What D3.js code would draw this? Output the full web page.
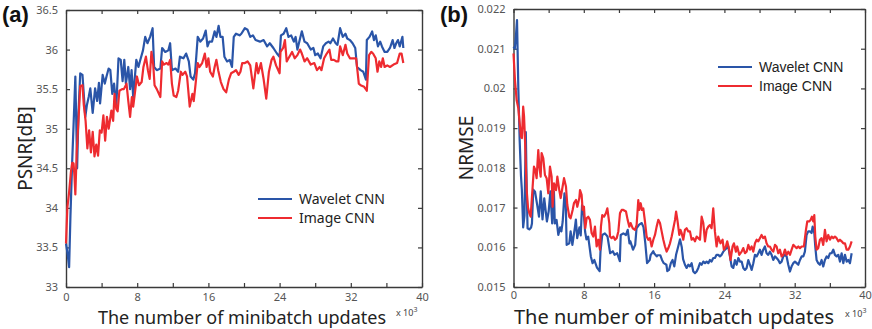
<!DOCTYPE html><meta charset="utf-8">
<html>
<head>
<title>Wavelet CNN vs Image CNN</title>
<script src="https://cdn.jsdelivr.net/npm/d3@7/dist/d3.min.js"></script>
<style>
  body { margin: 0; background: #fff; }
  svg { display: block; }
</style>
</head>
<body>
<svg id="viz"></svg>
<script>
// values, x in thousands of minibatch updates
var seriesNames = ["Wavelet CNN", "Image CNN"];
var xTicks = [0, 4, 8, 12, 16, 20, 24, 28, 32, 36, 40];
var psnrTicks = [33, 33.5, 34, 34.5, 35, 35.5, 36, 36.5];
var nrmseTicks = [0.015, 0.016, 0.017, 0.018, 0.019, 0.02, 0.021, 0.022];

var psnrWavelet = [[0,33.55],[0.2,33.4],[0.35,33.25],[0.5,33.9],[0.7,34.6],[0.9,35.2],[1.05,35.66],[1.15,35.1],[1.25,34.5],[1.4,35.2],[1.6,35.7],[1.85,35.68],[2.17,35.15],[2.35,35.3],[2.55,35.4],[2.73,35.51],[3.0,35.2],[3.27,35.51],[3.5,35.35],[3.7,35.58],[3.83,35.32],[4.12,35.68],[4.36,35.57],[4.55,35.66],[4.79,35.76],[4.98,35.74],[5.2,35.44],[5.4,35.57],[5.65,35.28],[5.9,35.89],[6.15,35.87],[6.36,35.6],[6.55,35.87],[6.73,35.57],[7.0,35.78],[7.2,35.5],[7.37,35.74],[7.55,35.4],[7.9,35.87],[8.14,35.78],[8.3,35.85],[8.65,35.99],[8.9,36.16],[9.15,36.08],[9.45,36.16],[9.73,36.27],[9.9,35.78],[10.2,35.74],[10.6,35.76],[10.8,36.02],[11.15,35.97],[11.5,35.99],[11.7,36.08],[11.9,35.74],[12.3,35.76],[12.6,35.72],[12.8,35.91],[13.2,35.89],[13.5,35.95],[13.8,35.85],[14.0,35.66],[14.3,35.62],[14.5,35.7],[14.8,36.16],[15.1,36.1],[15.4,36.14],[15.7,36.24],[15.9,36.04],[16.1,36.1],[16.4,36.1],[16.7,36.23],[16.9,36.16],[17.15,36.3],[17.35,36.16],[17.6,36.16],[17.8,35.91],[18.1,35.85],[18.4,35.87],[18.65,35.78],[18.85,36.16],[19.1,36.2],[19.5,36.18],[19.7,36.2],[20.1,36.27],[20.4,36.25],[20.7,36.16],[21.0,36.18],[21.3,36.12],[21.8,36.1],[22.2,36.12],[22.6,36.04],[22.9,36.08],[23.3,36.02],[23.7,35.95],[24.0,35.91],[24.15,36.18],[24.45,36.2],[24.75,36.27],[25.0,36.16],[25.3,36.18],[25.6,36.1],[25.8,36.16],[26.0,36.0],[26.3,36.14],[26.5,36.23],[26.8,36.1],[27.1,36.08],[27.5,36.0],[27.8,36.02],[28.0,35.93],[28.3,35.95],[28.6,35.89],[28.9,36.04],[29.2,36.08],[29.5,36.1],[29.7,36.08],[30.0,36.14],[30.3,36.08],[30.5,36.06],[30.8,36.27],[31.1,36.16],[31.4,36.2],[31.6,36.14],[31.9,36.12],[32.2,36.08],[32.5,36.02],[32.7,35.78],[33.1,35.74],[33.4,35.72],[33.7,35.62],[33.8,36.12],[34.1,36.16],[34.4,36.23],[34.6,36.12],[34.8,36.18],[35.05,36.04],[35.3,36.1],[35.5,36.04],[35.8,35.97],[36.1,35.97],[36.4,36.02],[36.7,36.12],[36.9,36.02],[37.1,36.08],[37.3,36.12],[37.5,36.04],[37.8,36.16],[37.9,36.02]];

var psnrImage = [[0,33.55],[0.15,34.0],[0.35,34.2],[0.55,34.45],[0.7,34.57],[0.85,34.56],[0.95,34.4],[1.05,34.17],[1.2,34.7],[1.4,35.1],[1.6,35.54],[1.85,35.55],[2.0,35.3],[2.2,35.1],[2.4,34.75],[2.6,34.98],[2.8,34.7],[3.0,34.96],[3.2,34.65],[3.4,34.8],[3.6,34.66],[3.8,34.98],[4.0,34.95],[4.2,35.17],[4.4,34.85],[4.6,35.15],[4.8,35.0],[5.1,35.23],[5.3,35.1],[5.45,35.44],[5.65,35.25],[5.8,35.22],[6.0,35.48],[6.3,35.5],[6.5,35.5],[6.8,35.57],[7.0,35.35],[7.2,35.15],[7.4,35.4],[7.55,35.28],[7.75,35.46],[7.97,35.66],[8.2,35.55],[8.5,35.59],[8.7,35.78],[8.98,35.91],[9.2,35.74],[9.4,35.63],[9.6,35.97],[9.8,35.81],[9.95,35.55],[10.2,35.5],[10.4,35.45],[10.6,35.4],[10.8,35.85],[11.0,35.81],[11.3,35.83],[11.5,35.81],[11.7,35.87],[11.9,35.57],[12.1,35.42],[12.4,35.4],[12.6,35.48],[12.9,35.72],[13.1,35.68],[13.4,35.72],[13.6,35.66],[13.9,35.28],[14.2,35.44],[14.35,35.35],[14.5,35.5],[14.8,35.83],[15.0,35.78],[15.3,35.83],[15.6,35.95],[15.8,35.78],[16.0,35.89],[16.2,35.72],[16.5,35.66],[16.7,35.78],[16.9,35.87],[17.1,35.74],[17.4,35.59],[17.7,35.5],[18.0,35.46],[18.3,35.62],[18.55,35.7],[18.85,35.72],[19.1,35.74],[19.4,35.68],[19.6,35.72],[19.8,35.83],[20.1,35.83],[20.4,35.85],[20.7,35.8],[21.05,35.51],[21.4,35.83],[21.6,35.7],[21.9,35.83],[22.2,35.63],[22.5,35.38],[22.8,35.72],[23.1,35.87],[23.3,35.91],[23.6,35.8],[24.0,35.7],[24.1,35.97],[24.4,36.02],[24.6,36.12],[24.8,35.85],[25.0,35.89],[25.4,35.97],[25.7,35.89],[26.0,35.93],[26.3,36.0],[26.5,35.95],[26.8,35.85],[27.1,35.89],[27.5,35.81],[27.9,35.83],[28.2,35.74],[28.5,35.78],[28.7,35.74],[29.0,35.89],[29.3,35.95],[29.6,36.0],[29.8,35.87],[30.1,35.87],[30.4,35.85],[30.6,35.85],[30.8,36.04],[31.1,35.93],[31.4,36.06],[31.6,35.95],[31.9,35.89],[32.3,35.89],[32.6,35.89],[32.9,35.57],[33.1,35.55],[33.5,35.53],[33.8,35.48],[34.05,35.93],[34.3,35.97],[34.5,35.95],[34.8,35.89],[35.0,35.72],[35.2,35.85],[35.4,35.78],[35.6,35.89],[35.8,35.78],[36.1,35.8],[36.4,35.78],[36.8,35.81],[37.2,35.83],[37.5,35.95],[37.7,35.95],[37.9,35.83]];

var nrmseWavelet = [[0,0.02105],[0.15,0.0210],[0.3,0.0214],[0.4,0.02172],[0.55,0.0200],[0.7,0.0187],[0.85,0.0178],[0.95,0.01745],[1.1,0.0165],[1.25,0.0168],[1.4,0.0189],[1.5,0.0175],[1.6,0.01648],[1.8,0.01645],[2.0,0.0165],[2.1,0.0166],[2.25,0.01745],[2.45,0.0174],[2.7,0.01706],[2.9,0.01677],[3.1,0.01741],[3.3,0.0167],[3.5,0.01723],[3.8,0.01665],[4.0,0.0169],[4.2,0.01741],[4.4,0.0166],[4.6,0.0174],[4.7,0.0166],[4.9,0.01669],[5.1,0.01631],[5.3,0.0165],[5.45,0.0164],[5.6,0.01665],[5.8,0.01736],[5.95,0.01706],[6.05,0.01606],[6.35,0.0161],[6.5,0.0164],[6.7,0.01606],[7.0,0.01652],[7.1,0.0167],[7.25,0.01623],[7.5,0.0165],[7.65,0.0163],[7.8,0.01706],[7.95,0.0170],[8.15,0.01639],[8.3,0.0162],[8.5,0.01627],[8.8,0.01577],[9.0,0.0156],[9.2,0.01568],[9.5,0.01549],[9.8,0.0154],[9.9,0.0159],[10.1,0.01631],[10.4,0.01635],[10.7,0.01627],[11.0,0.01585],[11.3,0.0159],[11.5,0.01581],[11.8,0.01585],[12.1,0.01565],[12.2,0.01631],[12.5,0.01635],[12.8,0.01631],[13.0,0.01644],[13.2,0.0161],[13.3,0.01615],[13.6,0.01594],[13.85,0.01606],[14.0,0.01648],[14.3,0.01657],[14.6,0.01661],[14.8,0.0165],[15.0,0.0161],[15.2,0.0156],[15.5,0.01568],[15.6,0.0158],[15.9,0.0159],[16.0,0.01585],[16.3,0.01577],[16.4,0.0158],[16.7,0.0158],[16.9,0.01568],[17.1,0.0156],[17.4,0.01556],[17.5,0.0154],[17.7,0.01543],[17.9,0.0156],[18.1,0.01568],[18.3,0.01552],[18.5,0.01581],[18.7,0.01598],[18.95,0.0162],[19.15,0.0160],[19.3,0.0157],[19.51,0.01556],[19.7,0.01548],[19.89,0.01556],[20.08,0.01552],[20.27,0.0156],[20.46,0.01539],[20.65,0.01535],[20.84,0.01539],[21.03,0.01548],[21.22,0.0156],[21.41,0.01556],[21.6,0.01564],[21.79,0.0156],[21.98,0.01564],[22.17,0.0156],[22.35,0.01568],[22.54,0.01564],[22.73,0.01573],[22.92,0.01573],[23.11,0.01581],[23.3,0.01581],[23.49,0.01577],[23.68,0.01581],[23.87,0.01589],[24.06,0.01594],[24.25,0.01598],[24.44,0.01602],[24.63,0.01577],[24.82,0.01552],[25.01,0.01548],[25.2,0.01568],[25.39,0.01556],[25.58,0.01573],[25.77,0.01564],[25.96,0.01564],[26.15,0.01548],[26.34,0.01543],[26.53,0.01548],[26.72,0.01568],[26.91,0.01556],[27.1,0.01543],[27.29,0.0156],[27.48,0.01581],[27.67,0.01577],[27.86,0.01585],[28.04,0.01594],[28.23,0.01581],[28.42,0.01594],[28.61,0.01602],[28.8,0.01585],[28.99,0.01581],[29.18,0.01589],[29.37,0.01581],[29.56,0.01568],[29.75,0.01577],[29.94,0.01573],[30.13,0.01568],[30.32,0.0156],[30.51,0.01564],[30.7,0.01577],[30.89,0.01581],[31.08,0.01577],[31.27,0.01556],[31.46,0.01539],[31.65,0.01552],[31.84,0.0156],[32.03,0.01564],[32.22,0.0156],[32.41,0.01556],[32.6,0.01568],[32.79,0.01577],[32.98,0.01577],[33.16,0.01589],[33.35,0.01631],[33.54,0.0164],[33.73,0.0164],[33.92,0.01636],[34.04,0.01652],[34.23,0.01636],[34.34,0.01602],[34.49,0.01568],[34.68,0.0156],[34.87,0.01556],[35.06,0.01568],[35.25,0.01552],[35.44,0.01568],[35.63,0.01577],[35.82,0.01573],[36.01,0.01585],[36.2,0.01585],[36.39,0.01594],[36.58,0.01581],[36.77,0.01577],[36.96,0.01581],[37.15,0.01564],[37.34,0.01585],[37.53,0.0156],[37.72,0.01581],[37.91,0.01564],[38.1,0.01568],[38.29,0.0156],[38.48,0.01585]];

var nrmseImage = [[0,0.02088],[0.17,0.0202],[0.36,0.0197],[0.55,0.0195],[0.74,0.01904],[0.85,0.01878],[0.96,0.01875],[1.1,0.01954],[1.2,0.0193],[1.31,0.0187],[1.5,0.01744],[1.65,0.0170],[1.8,0.01686],[1.95,0.01677],[2.18,0.01753],[2.33,0.01803],[2.48,0.01795],[2.63,0.01774],[2.82,0.01845],[2.94,0.01803],[3.09,0.01778],[3.2,0.01837],[3.39,0.01824],[3.58,0.01782],[3.77,0.01774],[3.96,0.01736],[4.15,0.01803],[4.34,0.01778],[4.45,0.01702],[4.61,0.01761],[4.84,0.01744],[4.99,0.01778],[5.21,0.01744],[5.37,0.01724],[5.59,0.01753],[5.75,0.01774],[5.97,0.01753],[6.12,0.01707],[6.35,0.01677],[6.5,0.01673],[6.73,0.01694],[6.88,0.01711],[7.11,0.01719],[7.26,0.01702],[7.49,0.01724],[7.57,0.01744],[7.75,0.01732],[7.87,0.01694],[8.02,0.01702],[8.17,0.01648],[8.32,0.01673],[8.51,0.01677],[8.7,0.01669],[8.89,0.01636],[9.08,0.01627],[9.27,0.01652],[9.46,0.01602],[9.65,0.01619],[9.84,0.01594],[9.95,0.01652],[10.1,0.01681],[10.3,0.01677],[10.52,0.01686],[10.68,0.01698],[10.9,0.01661],[10.98,0.01627],[11.17,0.01623],[11.36,0.01627],[11.55,0.01619],[11.74,0.01623],[11.93,0.0164],[12.12,0.01686],[12.31,0.01694],[12.5,0.01694],[12.8,0.0169],[12.99,0.01669],[13.18,0.01652],[13.33,0.01661],[13.56,0.01648],[13.82,0.01644],[14.01,0.01656],[14.2,0.01719],[14.31,0.01694],[14.47,0.01711],[14.62,0.01694],[14.77,0.01698],[14.96,0.01665],[15.15,0.01627],[15.34,0.01619],[15.53,0.01623],[15.72,0.01602],[15.91,0.01619],[16.1,0.01631],[16.29,0.01652],[16.48,0.01669],[16.67,0.01661],[16.86,0.0164],[17.05,0.01619],[17.24,0.01602],[17.43,0.01589],[17.62,0.01598],[17.81,0.0161],[18.0,0.01627],[18.19,0.01648],[18.38,0.01669],[18.5,0.0169],[18.65,0.01669],[18.87,0.01631],[19.0,0.01644],[19.13,0.01636],[19.32,0.01619],[19.51,0.01644],[19.7,0.01648],[19.89,0.0164],[20.08,0.0164],[20.27,0.01619],[20.46,0.01623],[20.65,0.01615],[20.84,0.01627],[21.03,0.01623],[21.22,0.01619],[21.41,0.01677],[21.6,0.01661],[21.79,0.01615],[21.98,0.01644],[22.17,0.01652],[22.35,0.01656],[22.54,0.01648],[22.73,0.01698],[22.92,0.0164],[23.11,0.01602],[23.3,0.01627],[23.41,0.01619],[23.56,0.0161],[23.79,0.01619],[23.94,0.01594],[24.17,0.01602],[24.32,0.01615],[24.55,0.01594],[24.7,0.01568],[24.93,0.01602],[25.08,0.0161],[25.31,0.01589],[25.46,0.01602],[25.69,0.01581],[25.96,0.01589],[26.15,0.01598],[26.34,0.01585],[26.53,0.01589],[26.72,0.01606],[26.91,0.01594],[27.1,0.01602],[27.29,0.01589],[27.48,0.0161],[27.67,0.01619],[27.86,0.01615],[28.04,0.01623],[28.23,0.01631],[28.42,0.01623],[28.61,0.01627],[28.8,0.0161],[28.99,0.01602],[29.18,0.01602],[29.37,0.01594],[29.56,0.01589],[29.75,0.01606],[29.94,0.01602],[30.13,0.01585],[30.32,0.01594],[30.51,0.01577],[30.7,0.01581],[30.89,0.01594],[31.08,0.01581],[31.27,0.01589],[31.46,0.01581],[31.65,0.01594],[31.84,0.01606],[32.03,0.01602],[32.22,0.01598],[32.41,0.01602],[32.6,0.01598],[32.79,0.01602],[33.05,0.01602],[33.28,0.01644],[33.43,0.01665],[33.65,0.01665],[33.81,0.01669],[33.96,0.01677],[34.11,0.01665],[34.23,0.01681],[34.34,0.01627],[34.49,0.01594],[34.68,0.01598],[34.87,0.01619],[35.06,0.01623],[35.25,0.01606],[35.44,0.01644],[35.63,0.01615],[35.82,0.01631],[36.01,0.01619],[36.2,0.01627],[36.39,0.01623],[36.58,0.01627],[36.77,0.01623],[36.96,0.01615],[37.15,0.01619],[37.34,0.01615],[37.53,0.0161],[37.72,0.0161],[37.91,0.01594],[38.1,0.01594],[38.29,0.01602],[38.48,0.01615]];

var colors = ["#2a55a8", "#ee2b30"];
var width = 872, height = 329;

var svg = d3.select("#viz").attr("width", width).attr("height", height)
    .style("font-family", "'Noto Sans', 'Open Sans', sans-serif");

svg.append("rect").attr("width", width).attr("height", height).attr("fill", "#fff");

function drawPanel(p) {
    var x = d3.scaleLinear().domain([0, 40]).range([p.left, p.right]);
    var y = d3.scaleLinear().domain(p.yDomain).range([p.bottom, p.top]);
    var g = svg.append("g");

    // box with inward ticks on all four sides
    var bottom = g.append("g").attr("transform", "translate(0," + p.bottom + ")")
        .call(d3.axisBottom(x).tickValues(xTicks).tickSizeInner(-4).tickSizeOuter(0).tickPadding(p.xPad)
            .tickFormat(function(d) { return d % 8 === 0 ? d : ""; }));
    var top = g.append("g").attr("transform", "translate(0," + p.top + ")")
        .call(d3.axisTop(x).tickValues(xTicks).tickSizeInner(-4).tickSizeOuter(0).tickFormat(""));
    var left = g.append("g").attr("transform", "translate(" + p.left + ",0)")
        .call(d3.axisLeft(y).tickValues(p.yTicks).tickSizeInner(-4).tickSizeOuter(0).tickPadding(8)
            .tickFormat(function(d) { return String(d); }));
    var right = g.append("g").attr("transform", "translate(" + p.right + ",0)")
        .call(d3.axisRight(y).tickValues(p.yTicks).tickSizeInner(-4).tickSizeOuter(0).tickFormat(""));

    [bottom, top, left, right].forEach(function(a) {
        a.select(".domain").attr("stroke", "#3a3a3a").attr("stroke-width", 1.4);
        a.selectAll(".tick line").attr("stroke", "#3a3a3a").attr("stroke-width", 1.2);
        a.selectAll("text").attr("fill", "#555").style("font-size", "11px")
            .style("font-family", "'Noto Sans', 'Open Sans', sans-serif");
    });
    // drop the empty label nodes of the unlabeled ticks
    bottom.selectAll(".tick text").filter(function(d) { return d % 8 !== 0; }).remove();

    var line = d3.line().x(function(d) { return x(d[0]); }).y(function(d) { return y(d[1]); });
    p.series.forEach(function(s, i) {
        g.append("path").datum(s).attr("d", line)
            .attr("fill", "none").attr("stroke", colors[i])
            .attr("stroke-width", 2.2).attr("stroke-linejoin", "round");
    });

    // axis titles
    g.append("text").attr("x", p.xLabelX).attr("y", p.xLabelY)
        .attr("text-anchor", "middle").attr("fill", "#222")
        .style("font-size", p.xLabelSize + "px").text("The number of minibatch updates");
    g.append("text").attr("x", p.expX).attr("y", p.expY)
        .attr("fill", "#444").style("font-size", "9px")
        .text("x 10").append("tspan").attr("dy", -4).style("font-size", "7px").text("3");
    g.append("text")
        .attr("transform", "translate(" + p.yLabelX + "," + ((p.top + p.bottom) / 2) + ") rotate(-90)")
        .attr("text-anchor", "middle").attr("fill", "#222")
        .style("font-size", "19px").text(p.yLabel);
    g.append("text").attr("x", p.tagX).attr("y", 22)
        .attr("fill", "#111").style("font-family", "'Liberation Sans', Arial, sans-serif")
        .style("font-weight", "bold").style("font-size", "22px").text(p.tag);

    // legend
    seriesNames.forEach(function(name, i) {
        var ly = p.legendY + i * 19;
        g.append("line").attr("x1", p.legendX).attr("x2", p.legendX + 34)
            .attr("y1", ly).attr("y2", ly)
            .attr("stroke", colors[i]).attr("stroke-width", 2.2);
        g.append("text").attr("x", p.legendX + 41).attr("y", ly + 5)
            .attr("fill", "#222").style("font-size", "14px")
            .style("font-family", p.legendFont).text(name);
    });
}

drawPanel({
    left: 66, right: 422, top: 10, bottom: 287,
    yDomain: [33, 36.5], yTicks: psnrTicks,
    series: [psnrWavelet, psnrImage], xPad: 6.5, expX: 396, expY: 316,
    xLabelX: 242, xLabelY: 324, xLabelSize: 18, yLabel: "PSNR[dB]", yLabelX: 32,
    tag: "(a)", tagX: 2,
    legendX: 258, legendY: 199, legendFont: "'Noto Sans', 'Open Sans', sans-serif"
});

drawPanel({
    left: 513.5, right: 865, top: 9, bottom: 287,
    yDomain: [0.015, 0.022], yTicks: nrmseTicks,
    series: [nrmseWavelet, nrmseImage], xPad: 4.5, expX: 845, expY: 317,
    xLabelX: 674, xLabelY: 324.3, xLabelSize: 20, yLabel: "NRMSE", yLabelX: 473,
    tag: "(b)", tagX: 440,
    legendX: 718, legendY: 67, legendFont: "'Liberation Sans', Arial, sans-serif"
});
</script>
</body>
</html>
